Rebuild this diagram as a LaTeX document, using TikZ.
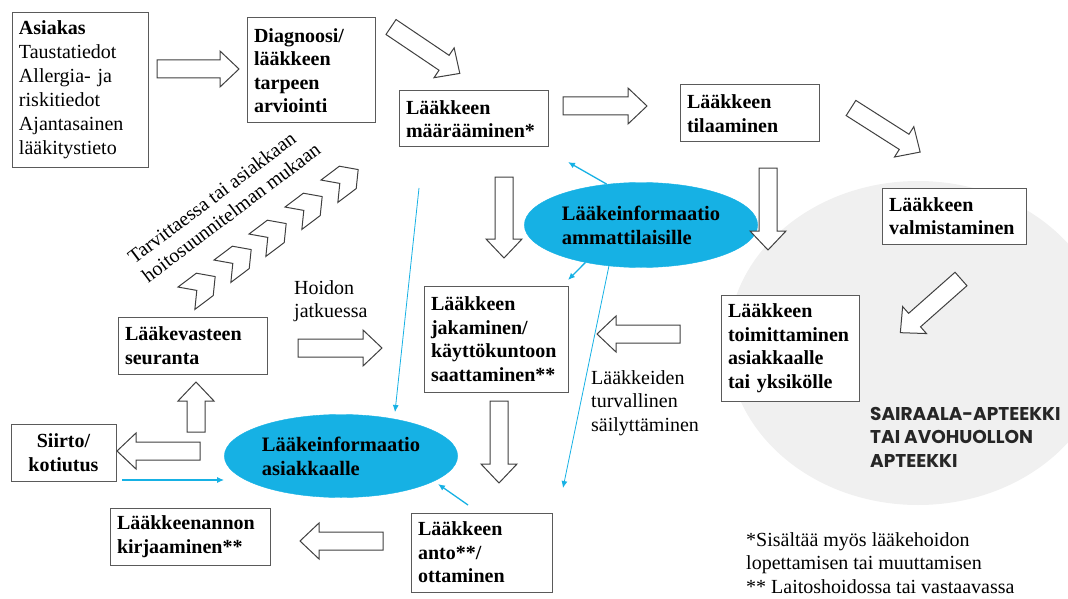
\documentclass[tikz,border=0pt]{standalone}
\usepackage{fontspec}
\setmainfont{Liberation Serif}
\newfontfamily\gothicfont{Poppins}
\usepackage{tikz}
\usetikzlibrary{arrows.meta,shapes.geometric}
\definecolor{infoblue}{RGB}{22,177,228}
\definecolor{circlegray}{RGB}{240,240,240}
\definecolor{boxgray}{RGB}{90,90,90}
\tikzset{
	box/.style={draw=boxgray, line width=1pt, fill=white, align=left, inner xsep=7pt, font=\fontsize{20}{23.5}\selectfont\bfseries},
	plain/.style={align=left, inner sep=0pt, font=\fontsize{20}{23.5}\selectfont},
	infoell/.style={ellipse, draw=infoblue, fill=infoblue, align=left, font=\fontsize{20.5}{24}\selectfont\bfseries},
	blockarr/.style={draw=black!75, line width=1pt, fill=white, line join=miter},
	infoline/.style={draw=infoblue, line width=1.3pt, -{Latex[length=7pt,width=6pt]}},
	thinline/.style={draw=infoblue, line width=0.8pt, -{Latex[length=7pt,width=6pt]}}
}
\def\blockarrow(#1)(#2:#3){\draw[blockarr,shift={(#1)},rotate=#2] (0,-9) -- ({#3-19},-9) -- ({#3-19},-18) -- (#3,0) -- ({#3-19},18) -- ({#3-19},9) -- (0,9) -- cycle;}
\def\chevron(#1){\draw[blockarr,shift={(#1)},rotate=37] (-17,-14) -- (6,-14) -- (19,0) -- (6,14) -- (-17,14) -- (-4,0) -- cycle;}

\begin{document}
\begin{tikzpicture}[x=1pt,y=-1pt]
			%%%%% START %%%%%
			\useasboundingbox (0,0) rectangle (1068,599);
			\begin{scope}
				\clip (0,0) rectangle (1068,599);
				\fill[circlegray] (918,343) ellipse [x radius=190, y radius=162];
			\end{scope}
			
			% boxes
			\node[box, font=\fontsize{20}{24}\selectfont, text width=122pt, minimum height=154pt] (asiakas) at (80,90) {\textbf{Asiakas}\\Taustatiedot\\Allergia- ja\\riskitiedot\\Ajantasainen\\lääkitystieto};
			\node[box, text width=114pt, minimum height=105pt] (diagnoosi) at (311,70.5) {Diagnoosi/\\lääkkeen\\tarpeen\\arviointi};
			\node[box, text width=135pt, minimum height=56pt] (maaraa) at (473.5,119) {Lääkkeen\\määrääminen*};
			\node[box, text width=125pt, minimum height=57pt] (tilaa) at (749.5,113.5) {Lääkkeen\\tilaaminen};
			\node[box, text width=130pt, minimum height=56pt] (valmis) at (954,216) {Lääkkeen\\valmistaminen};
			\node[box, text width=124pt, minimum height=106pt] (toimit) at (790,348) {Lääkkeen\\toimittaminen\\asiakkaalle\\tai yksikölle};
			\node[box, text width=130pt, minimum height=106pt] (jakam) at (496,339) {Lääkkeen\\jakaminen/\\käyttökuntoon\\saattaminen**};
			\node[box, text width=135pt, minimum height=57pt] (seuranta) at (192.5,345.5) {Lääkevasteen\\seuranta};
			\node[box, align=center, text width=91pt, minimum height=57pt] (siirto) at (63.5,452.5) {Siirto/\\kotiutus};
			\node[box, text width=146pt, minimum height=57pt] (kirjaus) at (190,536.5) {Lääkkeenannon\\kirjaaminen**};
			\node[box, text width=127pt, minimum height=79pt] (anto) at (481.5,552.5) {Lääkkeen\\anto**/\\ottaminen};
			
			% info ellipses
			\node[infoell, minimum width=181pt, minimum height=85pt] (ammat) at (641,225) {Lääkeinformaatio\\ammattilaisille};
			\node[infoell, minimum width=220pt, minimum height=83pt] (asiak) at (341,456) {Lääkeinformaatio\\asiakkaalle};
			
			% block arrows
			\blockarrow(157,69)(0:82);
			\blockarrow(391,27)(-34:83);
			\blockarrow(563,106)(0:84);
			\blockarrow(851,108)(-32.5:82);
			\blockarrow(768,168)(-90:82);
			\blockarrow(961,279)(-138.5:81);
			\blockarrow(680,334)(180:83);
			\blockarrow(504,177)(-90:81);
			\blockarrow(499,401)(-90:82);
			\blockarrow(383,541)(180:83);
			\blockarrow(200,451)(180:83);
			\blockarrow(196,432)(90:50);
			\blockarrow(298,348)(0:84);
			
			\chevron(200,288);
			\chevron(236,261);
			\chevron(271,235);
			\chevron(307,208);
			\chevron(343,181);
			
			% texts
			\node[plain, rotate=37] (tarvit) at (224,203) {Tarvittaessa tai asiakkaan\\hoitosuunnitelman mukaan};
			\node[plain, anchor=west] (hoidon) at (294,301) {Hoidon\\jatkuessa};
			\node[plain, anchor=west] (sailytys) at (591,403) {Lääkkeiden\\turvallinen\\säilyttäminen};
			\node[align=left, anchor=west, inner sep=0pt, text=black!85, font=\gothicfont\bfseries\fontsize{18.5}{23.5}\selectfont] (apteekki) at (870,437) {SAIRAALA-APTEEKKI\\TAI AVOHUOLLON\\APTEEKKI};
			\node[plain, anchor=west] (notes) at (746,563) {*Sisältää myös lääkehoidon\\lopettamisen tai muuttamisen\\** Laitoshoidossa tai vastaavassa};
			
			% info connectors
			\coordinate (maaraaend) at (568,162);
			\coordinate (jakamend) at (568,280);
			\coordinate (antoend) at (563,488);
			\coordinate (diagstart) at (419,188);
			\coordinate (asiakend) at (395,412);
			\coordinate (siirtostart) at (122,480);
			\coordinate (antostart) at (468,505);
			\coordinate (asiakin) at (438,484);
			\draw[infoline] (ammat.130) -- (maaraaend);
			\draw[infoline] (ammat.214) -- (jakamend);
			\draw[thinline] (ammat.232) -- (antoend);
			\draw[thinline] (diagstart) -- (asiakend);
			\draw[infoline] (siirtostart) -- (asiak.west |- siirtostart);
			\draw[infoline] (antostart) -- (asiakin);
			%%%%% END %%%%%
\end{tikzpicture}
\end{document}
